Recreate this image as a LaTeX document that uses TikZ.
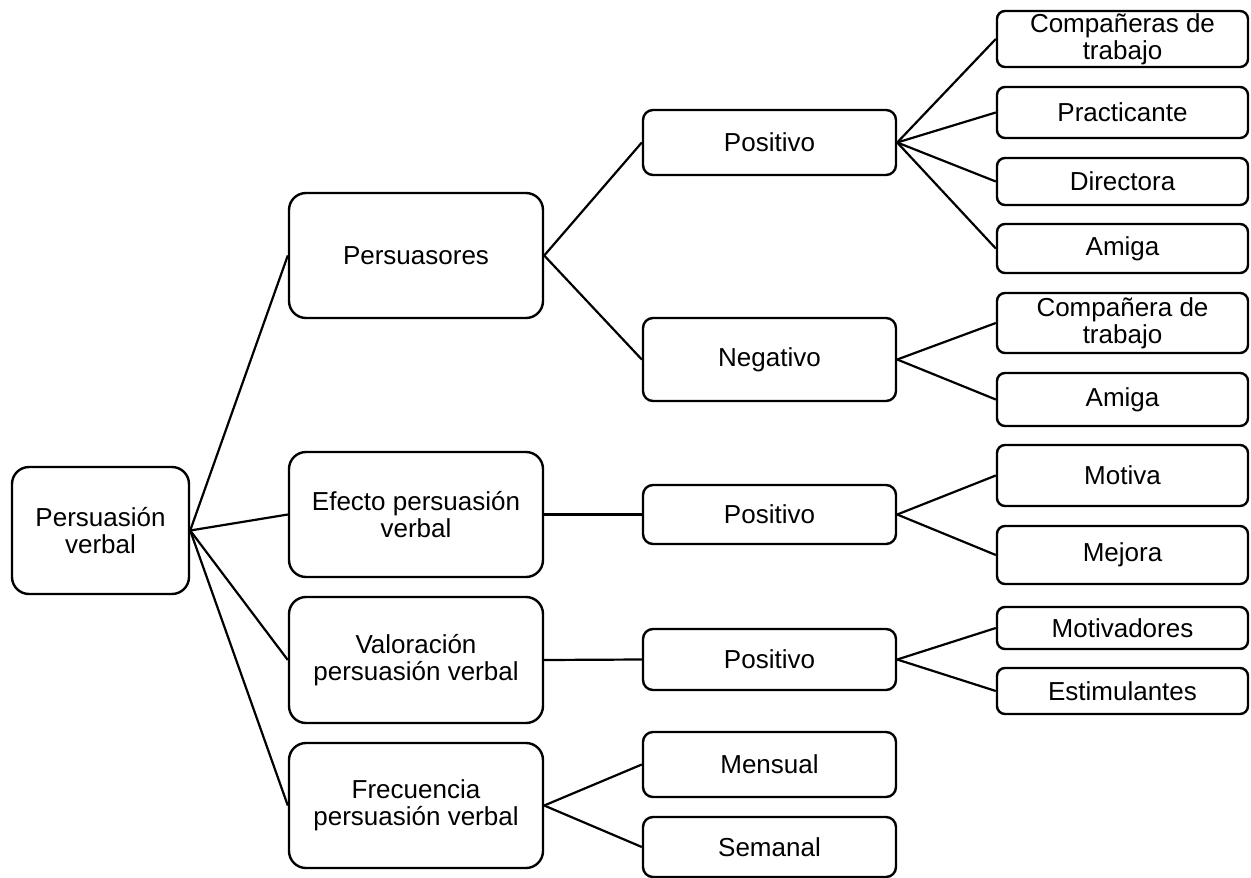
\documentclass[tikz,border=0pt]{standalone}
\usepackage{fontspec}
\setmainfont{Liberation Sans}
\begin{document}
\begin{tikzpicture}[x=1pt,y=-1pt,
  box/.style={draw=black, line width=2.4pt, fill=white, inner sep=0pt,
    align=center, font=\fontsize{26}{27}\selectfont},
  rootbox/.style={box, rounded corners=17pt, minimum width=177pt},
  lvlone/.style={box, rounded corners=17pt, minimum width=254pt},
  lvltwo/.style={box, rounded corners=10pt, minimum width=253pt},
  lvlthree/.style={box, rounded corners=8pt, minimum width=251pt},
  link/.style={draw=black, line width=2.2pt}]
\useasboundingbox (0,0) rectangle (1251,878);

% root
\node[rootbox, minimum height=127pt] (root) at (100.5,530.5) {Persuasión\\verbal};

% first level
\node[lvlone, minimum height=125pt] (pers) at (416,255.5) {Persuasores};
\node[lvlone, minimum height=125pt] (efec) at (416,514.5) {Efecto persuasión\\verbal};
\node[lvlone, minimum height=126pt] (valo) at (416,660) {Valoración\\persuasión verbal};
\node[lvlone, minimum height=125pt] (frec) at (416,805.5) {Frecuencia\\persuasión verbal};

% second level
\node[lvltwo, minimum height=65pt] (posa) at (769.5,142.5) {Positivo};
\node[lvltwo, minimum height=83pt] (nega) at (769.5,359.5) {Negativo};
\node[lvltwo, minimum height=59pt] (posb) at (769.5,514.5) {Positivo};
\node[lvltwo, minimum height=61pt] (posc) at (769.5,659.5) {Positivo};
\node[lvltwo, minimum height=65pt] (mens) at (769.5,764.5) {Mensual};
\node[lvltwo, minimum height=60pt] (sema) at (769.5,847) {Semanal};

% third level
\node[lvlthree, minimum height=56pt] (compa) at (1122.5,39) {Compañeras de\\trabajo};
\node[lvlthree, minimum height=51pt] (prac) at (1122.5,112.5) {Practicante};
\node[lvlthree, minimum height=47pt] (dire) at (1122.5,181.5) {Directora};
\node[lvlthree, minimum height=49pt] (amia) at (1122.5,248.5) {Amiga};
\node[lvlthree, minimum height=60pt] (compb) at (1122.5,323) {Compañera de\\trabajo};
\node[lvlthree, minimum height=53pt] (amib) at (1122.5,399.5) {Amiga};
\node[lvlthree, minimum height=61pt] (moti) at (1122.5,475.5) {Motiva};
\node[lvlthree, minimum height=58pt] (mejo) at (1122.5,555) {Mejora};
\node[lvlthree, minimum height=42pt] (motd) at (1122.5,628) {Motivadores};
\node[lvlthree, minimum height=46pt] (esti) at (1122.5,691) {Estimulantes};

% connectors
\foreach \a/\b in {root/pers, root/efec, root/valo, root/frec,
                   pers/posa, pers/nega, efec/posb, valo/posc,
                   frec/mens, frec/sema,
                   posa/compa, posa/prac, posa/dire, posa/amia,
                   nega/compb, nega/amib, posb/moti, posb/mejo,
                   posc/motd, posc/esti}
  \draw[link] (\a.east) -- (\b.west);
\end{tikzpicture}
\end{document}
